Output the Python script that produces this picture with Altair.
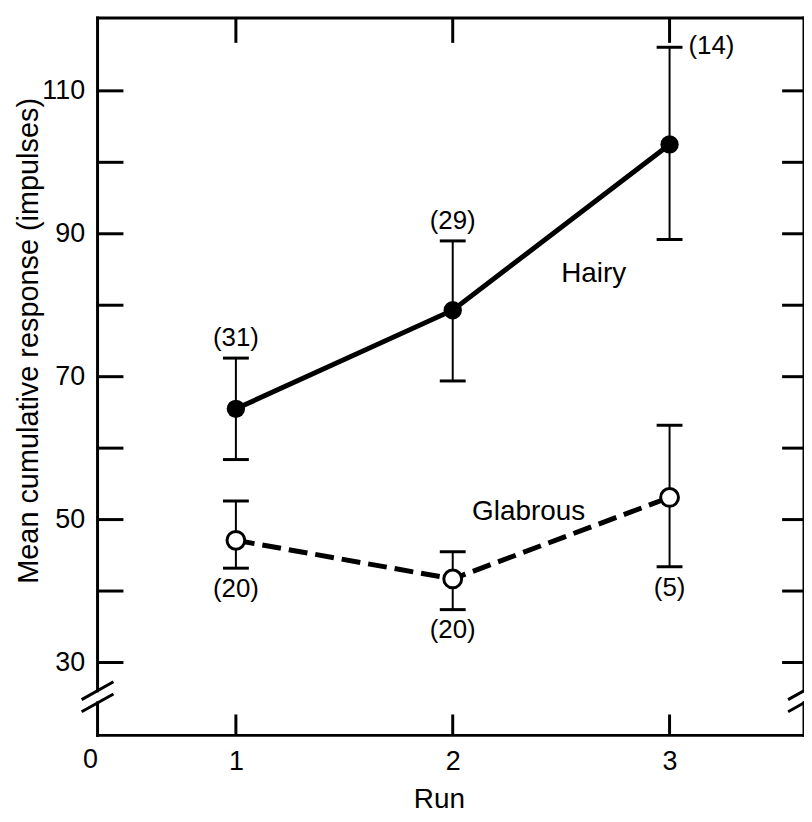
import altair as alt
import pandas as pd

# ---- data ----
runs = [1, 2, 3]
hairy_mean = [65.5, 79.3, 102.5]
hairy_lo = [58.4, 69.4, 89.2]
hairy_hi = [72.6, 89.0, 116.1]
hairy_n = ["(31)", "(29)", "(14)"]
glab_mean = [47.1, 41.7, 53.1]
glab_lo = [43.2, 37.4, 43.4]
glab_hi = [52.6, 45.5, 63.2]
glab_n = ["(20)", "(20)", "(5)"]
series_names = ["Hairy", "Glabrous"]
name_x = [2.65, 2.35]
name_y = [84.4, 51.0]
y_ticks = [30, 40, 50, 60, 70, 80, 90, 100, 110]
y_labels = [30, 50, 70, 90, 110]
x_ticks = [1, 2, 3]

X_MIN, X_MAX = 0.362, 3.62
Y_MIN, Y_MAX = 19.8, 120.2
BREAK_C, BREAK_GAP, SLASH_H = 25.2, 0.85, 1.25

W, H = 710, 721
FONT = "Liberation Sans"

df = pd.DataFrame({
    "run": runs * 2,
    "mean": hairy_mean + glab_mean,
    "lo": hairy_lo + glab_lo,
    "hi": hairy_hi + glab_hi,
    "n": hairy_n + glab_n,
    "series": ["Hairy"] * 3 + ["Glabrous"] * 3,
})

xs = alt.Scale(domain=[X_MIN, X_MAX], nice=False, zero=False)
ys = alt.Scale(domain=[Y_MIN, Y_MAX], nice=False, zero=False)

x_axis = alt.Axis(values=x_ticks, ticks=False, tickSize=0, domain=False, grid=False,
                  labelFontSize=27, labelFont=FONT, labelColor="black",
                  labelBaseline="alphabetic", labelPadding=34, labelFlush=False,
                  title="Run", titleFont=FONT, titleFontSize=28, titleFontWeight="normal",
                  titleColor="black", titleX=343, titleY=72, titleBaseline="alphabetic",
                  titleAlign="center")
y_axis = alt.Axis(values=y_labels, ticks=False, tickSize=0, domain=False, grid=False,
                  labelFontSize=27, labelFont=FONT, labelColor="black", labelPadding=13,
                  title="Mean cumulative response (impulses)", titleFont=FONT,
                  titleFontSize=29, titleFontWeight="normal", titleColor="black",
                  titleX=-60, titleY=324, titleAngle=270, titleBaseline="alphabetic",
                  titleAlign="center")


def X(f):
    return alt.X(f, type="quantitative", scale=xs, axis=x_axis)


def Y(f):
    return alt.Y(f, type="quantitative", scale=ys, axis=y_axis)


base = alt.Chart(df)

# frame with axis breaks
frame = pd.DataFrame({
    "x": [X_MIN, X_MIN, X_MIN, X_MIN, X_MAX, X_MAX],
    "x2": [X_MAX, X_MAX, X_MIN, X_MIN, X_MAX, X_MAX],
    "y": [Y_MAX, Y_MIN, Y_MAX, BREAK_C - BREAK_GAP, Y_MAX, BREAK_C - BREAK_GAP],
    "y2": [Y_MAX, Y_MIN, BREAK_C + BREAK_GAP, Y_MIN, BREAK_C + BREAK_GAP, Y_MIN],
})
frame_layer = alt.Chart(frame).mark_rule(color="black", strokeWidth=3, strokeCap="square").encode(
    x=X("x"), x2="x2", y=Y("y"), y2="y2")

slashes = pd.DataFrame({
    "x": [X_MIN, X_MIN, X_MAX, X_MAX],
    "y": [BREAK_C + BREAK_GAP - SLASH_H, BREAK_C - BREAK_GAP - SLASH_H] * 2,
    "y2": [BREAK_C + BREAK_GAP + SLASH_H, BREAK_C - BREAK_GAP + SLASH_H] * 2,
})
slash_layer = alt.Chart(slashes).mark_rule(color="black", strokeWidth=3, xOffset=-16, x2Offset=16).encode(
    x=X("x"), x2="x", y=Y("y"), y2="y2")

yt = pd.DataFrame({"y": y_ticks})
xt = pd.DataFrame({"x": x_ticks})
left_ticks = alt.Chart(yt).mark_rule(color="black", strokeWidth=3).encode(
    y=Y("y"), x=alt.value(0), x2=alt.value(26))
right_ticks = alt.Chart(yt).mark_rule(color="black", strokeWidth=3).encode(
    y=Y("y"), x=alt.value(W - 22), x2=alt.value(W))
bottom_ticks = alt.Chart(xt).mark_rule(color="black", strokeWidth=3).encode(
    x=X("x"), y=alt.value(H), y2=alt.value(H - 21))
top_ticks = alt.Chart(xt).mark_rule(color="black", strokeWidth=3).encode(
    x=X("x"), y=alt.value(0), y2=alt.value(25))

zero_lab = pd.DataFrame({"x": [X_MIN], "y": [Y_MIN], "t": ["0"]})
zero_layer = alt.Chart(zero_lab).mark_text(font=FONT, fontSize=27, color="black", dx=-7, dy=33,
                                           baseline="alphabetic", align="center").encode(
    x=X("x"), y=Y("y"), text="t:N")

# error bars
err = base.mark_rule(color="black", strokeWidth=2).encode(x=X("run"), y=Y("lo"), y2="hi")
cap_hi = base.mark_rule(color="black", strokeWidth=3, xOffset=-13, x2Offset=13).encode(
    x=X("run"), x2="run", y=Y("hi"))
cap_lo = base.mark_rule(color="black", strokeWidth=3, xOffset=-13, x2Offset=13).encode(
    x=X("run"), x2="run", y=Y("lo"))

hairy_line = base.transform_filter(alt.datum.series == "Hairy").mark_line(
    color="black", strokeWidth=5).encode(x=X("run"), y=Y("mean"))
glab_line = base.transform_filter(alt.datum.series == "Glabrous").mark_line(
    color="black", strokeWidth=5, strokeDash=[19, 8]).encode(x=X("run"), y=Y("mean"))

hairy_pts = base.transform_filter(alt.datum.series == "Hairy").mark_point(
    shape="circle", filled=True, size=340, color="black", opacity=1).encode(x=X("run"), y=Y("mean"))
glab_pts = base.transform_filter(alt.datum.series == "Glabrous").mark_point(
    shape="circle", filled=False, size=320, fill="white", stroke="black", strokeWidth=3,
    opacity=1, fillOpacity=1).encode(x=X("run"), y=Y("mean"))

txt = dict(font=FONT, fontSize=26, color="black", baseline="middle")
n_hairy = base.transform_filter((alt.datum.series == "Hairy") & (alt.datum.run < 3)).mark_text(
    dy=-20, align="center", **txt).encode(x=X("run"), y=Y("hi"), text="n:N")
n_hairy3 = base.transform_filter((alt.datum.series == "Hairy") & (alt.datum.run == 3)).mark_text(
    dx=19, dy=-1, align="left", **txt).encode(x=X("run"), y=Y("hi"), text="n:N")
n_glab = base.transform_filter(alt.datum.series == "Glabrous").mark_text(
    dy=21, align="center", **txt).encode(x=X("run"), y=Y("lo"), text="n:N")

names = pd.DataFrame({"x": name_x, "y": name_y, "t": series_names})
name_layer = alt.Chart(names).mark_text(font=FONT, fontSize=28, color="black", baseline="middle",
                                        align="center").encode(x=X("x"), y=Y("y"), text="t:N")

chart = alt.layer(
    frame_layer, slash_layer, left_ticks, right_ticks, bottom_ticks, top_ticks, zero_layer,
    err, cap_hi, cap_lo, hairy_line, glab_line, hairy_pts, glab_pts,
    n_hairy, n_hairy3, n_glab, name_layer,
).properties(
    width=W, height=H,
    autosize=alt.AutoSizeParams(type="none"),
    padding={"left": 90, "top": 8, "right": 0, "bottom": 78},
    background="white",
).configure_view(stroke=None)

chart.save("out.html", embed_options={"renderer": "svg", "actions": False})
